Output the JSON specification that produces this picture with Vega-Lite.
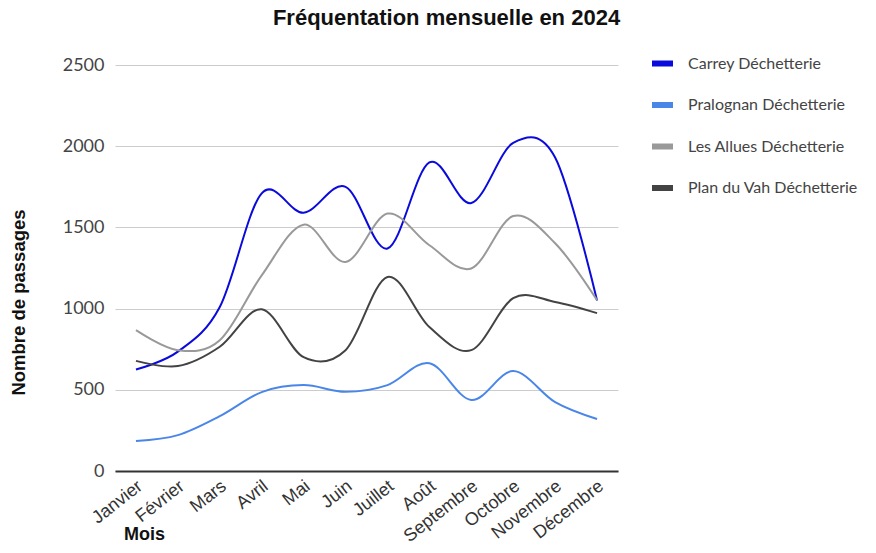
{
  "$schema": "https://vega.github.io/schema/vega-lite/v6.json",
  "autosize": {"type": "none"},
  "width": 503,
  "height": 406,
  "padding": {"left": 115, "top": 65, "right": 258, "bottom": 82},
  "background": "white",
  "title": {
    "text": "Fréquentation mensuelle en 2024",
    "font": "Liberation Sans",
    "fontSize": 22,
    "fontWeight": "bold",
    "color": "#111",
    "anchor": "middle",
    "dx": 80,
    "offset": 20
  },
  "data": {"values": [
    {"mois": "Janvier", "site": "Carrey Déchetterie", "v": 625},
    {"mois": "Février", "site": "Carrey Déchetterie", "v": 735},
    {"mois": "Mars", "site": "Carrey Déchetterie", "v": 1010},
    {"mois": "Avril", "site": "Carrey Déchetterie", "v": 1710},
    {"mois": "Mai", "site": "Carrey Déchetterie", "v": 1590},
    {"mois": "Juin", "site": "Carrey Déchetterie", "v": 1750},
    {"mois": "Juillet", "site": "Carrey Déchetterie", "v": 1370},
    {"mois": "Août", "site": "Carrey Déchetterie", "v": 1900},
    {"mois": "Septembre", "site": "Carrey Déchetterie", "v": 1650},
    {"mois": "Octobre", "site": "Carrey Déchetterie", "v": 2020},
    {"mois": "Novembre", "site": "Carrey Déchetterie", "v": 1930},
    {"mois": "Décembre", "site": "Carrey Déchetterie", "v": 1050},
    {"mois": "Janvier", "site": "Pralognan Déchetterie", "v": 185},
    {"mois": "Février", "site": "Pralognan Déchetterie", "v": 221},
    {"mois": "Mars", "site": "Pralognan Déchetterie", "v": 338},
    {"mois": "Avril", "site": "Pralognan Déchetterie", "v": 486},
    {"mois": "Mai", "site": "Pralognan Déchetterie", "v": 529},
    {"mois": "Juin", "site": "Pralognan Déchetterie", "v": 488},
    {"mois": "Juillet", "site": "Pralognan Déchetterie", "v": 529},
    {"mois": "Août", "site": "Pralognan Déchetterie", "v": 664},
    {"mois": "Septembre", "site": "Pralognan Déchetterie", "v": 437},
    {"mois": "Octobre", "site": "Pralognan Déchetterie", "v": 615},
    {"mois": "Novembre", "site": "Pralognan Déchetterie", "v": 424},
    {"mois": "Décembre", "site": "Pralognan Déchetterie", "v": 320},
    {"mois": "Janvier", "site": "Les Allues Déchetterie", "v": 867},
    {"mois": "Février", "site": "Les Allues Déchetterie", "v": 744},
    {"mois": "Mars", "site": "Les Allues Déchetterie", "v": 805},
    {"mois": "Avril", "site": "Les Allues Déchetterie", "v": 1205},
    {"mois": "Mai", "site": "Les Allues Déchetterie", "v": 1517},
    {"mois": "Juin", "site": "Les Allues Déchetterie", "v": 1287},
    {"mois": "Juillet", "site": "Les Allues Déchetterie", "v": 1585},
    {"mois": "Août", "site": "Les Allues Déchetterie", "v": 1390},
    {"mois": "Septembre", "site": "Les Allues Déchetterie", "v": 1247},
    {"mois": "Octobre", "site": "Les Allues Déchetterie", "v": 1570},
    {"mois": "Novembre", "site": "Les Allues Déchetterie", "v": 1402},
    {"mois": "Décembre", "site": "Les Allues Déchetterie", "v": 1052},
    {"mois": "Janvier", "site": "Plan du Vah Déchetterie", "v": 678},
    {"mois": "Février", "site": "Plan du Vah Déchetterie", "v": 646},
    {"mois": "Mars", "site": "Plan du Vah Déchetterie", "v": 765},
    {"mois": "Avril", "site": "Plan du Vah Déchetterie", "v": 996},
    {"mois": "Mai", "site": "Plan du Vah Déchetterie", "v": 701},
    {"mois": "Juin", "site": "Plan du Vah Déchetterie", "v": 744},
    {"mois": "Juillet", "site": "Plan du Vah Déchetterie", "v": 1195},
    {"mois": "Août", "site": "Plan du Vah Déchetterie", "v": 886},
    {"mois": "Septembre", "site": "Plan du Vah Déchetterie", "v": 744},
    {"mois": "Octobre", "site": "Plan du Vah Déchetterie", "v": 1064},
    {"mois": "Novembre", "site": "Plan du Vah Déchetterie", "v": 1041},
    {"mois": "Décembre", "site": "Plan du Vah Déchetterie", "v": 972}
  ]},
  "mark": {"type": "line", "interpolate": "cardinal", "strokeWidth": 2},
  "encoding": {
    "x": {
      "field": "mois",
      "type": "ordinal",
      "sort": ["Janvier", "Février", "Mars", "Avril", "Mai", "Juin", "Juillet", "Août", "Septembre", "Octobre", "Novembre", "Décembre"],
      "scale": {"type": "point", "padding": 0.5},
      "axis": {
        "title": "Mois",
        "titleFont": "Liberation Sans",
        "titleFontSize": 18,
        "titleFontWeight": "bold",
        "titleColor": "#111",
        "titleX": 29,
        "titleY": 63,
        "titleAlign": "center",
        "titleBaseline": "middle",
        "labelAngle": -38,
        "labelAlign": "right",
        "labelBaseline": "middle",
        "labelPadding": 13,
        "labelOffset": 4,
        "labelFont": "Liberation Sans",
        "labelFontSize": 18,
        "labelColor": "#333",
        "labelOverlap": false,
        "ticks": false,
        "grid": false,
        "domain": true,
        "domainColor": "#333",
        "domainWidth": 2
      }
    },
    "y": {
      "field": "v",
      "type": "quantitative",
      "scale": {"domain": [0, 2500], "nice": false},
      "axis": {
        "title": "Nombre de passages",
        "titleFont": "Liberation Sans",
        "titleFontSize": 18.5,
        "titleFontWeight": "bold",
        "titleColor": "#111",
        "titleX": -97,
        "titleY": 237,
        "titleAlign": "center",
        "titleBaseline": "middle",
        "values": [0, 500, 1000, 1500, 2000, 2500],
        "format": "d",
        "labelFont": "Lato",
        "labelFontSize": 18,
        "labelColor": "#444",
        "labelPadding": 11,
        "ticks": false,
        "domain": false,
        "grid": true,
        "gridColor": "#cccccc",
        "gridWidth": 1
      }
    },
    "color": {
      "field": "site",
      "type": "nominal",
      "sort": ["Carrey Déchetterie", "Pralognan Déchetterie", "Les Allues Déchetterie", "Plan du Vah Déchetterie"],
      "scale": {
        "domain": ["Carrey Déchetterie", "Pralognan Déchetterie", "Les Allues Déchetterie", "Plan du Vah Déchetterie"],
        "range": ["#0a0adc", "#4a86e8", "#999999", "#434343"]
      },
      "legend": {
        "title": null,
        "orient": "none",
        "legendX": 534,
        "legendY": -15,
        "symbolType": "stroke",
        "symbolSize": 441,
        "symbolStrokeWidth": 6,
        "labelFont": "Lato",
        "labelFontSize": 16,
        "labelColor": "#444",
        "labelOffset": 12,
        "labelLimit": 300,
        "rowPadding": 15.5
      }
    }
  },
  "config": {"view": {"stroke": null}}
}
